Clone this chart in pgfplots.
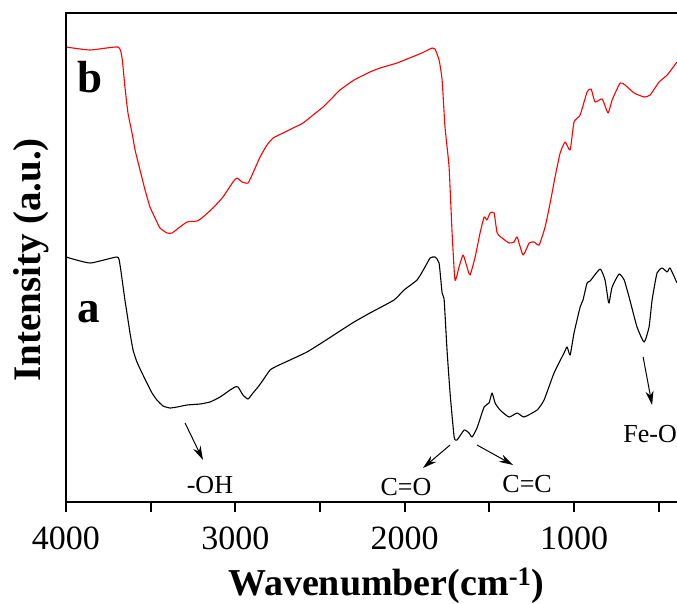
\documentclass[border=0pt]{standalone}
\usepackage{fontspec}
\setmainfont{Liberation Serif}
\usepackage{pgfplots}
\pgfplotsset{compat=1.18}
\usetikzlibrary{arrows.meta}

% FTIR spectra: curve a (black) and curve b (red), offset vertically
\pgfplotstableread{
w y
4000 245
3858 239
3699 245
3681 237
3652 202
3640 189
3622 169
3604 152
3581 140
3551 129
3522 119
3492 109
3463 102
3427 96
3386 94
3344 95
3285 97
3209 98
3150 100
3090 105
3031 112
3002 115
2984 115
2955 107
2925 103
2896 109
2866 115
2836 122
2795 132
2754 136
2677 142
2577 150
2482 160
2382 171
2299 180
2205 189
2063 202
2004 212
1927 222
1880 235
1850 244
1821 245
1797 239
1779 209
1767 202
1750 152
1732 109
1708 65
1691 62
1649 72
1620 69
1602 65
1573 74
1531 95
1502 99
1484 109
1466 99
1437 92
1384 85
1336 89
1295 85
1218 92
1177 102
1118 129
1059 149
1041 155
1023 147
1000 169
964 195
947 202
923 219
905 221
846 233
817 222
799 202
793 199
775 215
734 228
704 222
675 205
628 175
586 160
557 175
539 202
510 229
480 234
450 230
433 234
392 219
}\specA

\pgfplotstableread{
w y
4000 455
3858 452
3693 455
3669 444
3652 415
3634 389
3610 369
3592 352
3563 332
3533 312
3504 295
3474 284
3445 274
3403 269
3374 269
3327 275
3285 280
3226 281
3191 285
3132 294
3073 305
3014 320
2990 324
2960 320
2925 319
2896 329
2854 345
2813 357
2777 364
2718 369
2659 374
2600 379
2541 387
2482 395
2423 405
2382 412
2299 422
2205 430
2145 434
2045 439
1986 443
1927 447
1886 450
1838 454
1821 453
1797 442
1779 422
1762 375
1738 335
1720 269
1703 222
1679 235
1655 247
1632 235
1614 227
1584 245
1555 269
1531 285
1514 282
1496 289
1472 289
1454 269
1425 264
1384 259
1354 260
1336 265
1301 247
1265 259
1236 260
1206 257
1171 275
1141 299
1112 325
1082 349
1053 360
1023 352
1000 380
964 387
923 410
899 413
876 400
834 403
799 389
775 402
728 419
699 417
645 409
586 405
551 407
498 420
450 427
392 440
}\specB

\begin{document}
\begin{tikzpicture}
\useasboundingbox (-66pt,-101pt) rectangle (611pt,502pt);
\begin{axis}[
  at={(0pt,0pt)}, anchor=south west,
  scale only axis,
  width=611pt, height=489pt,
  x dir=reverse,
  xmin=392, xmax=4000,
  ymin=0, ymax=489,
  axis line style={draw=none},
  clip mode=individual,
  xtick={1000,2000,3000,4000},
  minor xtick={500,1500,2500,3500},
  xtick pos=bottom,
  ytick=\empty,
  tick align=outside,
  major tick length=10pt,
  minor tick length=10pt,
  every tick/.style={black, line width=2pt},
  /pgf/number format/assume math mode=true,
  /pgf/number format/1000 sep={},
  xticklabel style={font=\fontsize{34}{34}\selectfont, anchor=base, yshift=-37pt},
  xlabel={\textbf{Wavenumber(cm\textsuperscript{-1})}},
  xlabel style={font=\fontsize{38}{38}\selectfont, at={(axis description cs:0.524,0)}, anchor=base, yshift=-93pt},
  ylabel={\textbf{Intensity (a.u.)}},
  ylabel style={font=\fontsize{39}{39}\selectfont, at={(axis description cs:-0.0565,0.495)}, anchor=center, rotate=0},
]
\addplot[black, line width=1.1pt, line join=round, smooth, tension=0.3] table[x=w, y=y] {\specA};
\addplot[red, line width=1.1pt, line join=round, smooth, tension=0.3] table[x=w, y=y] {\specB};

\node[font=\fontsize{45}{45}\selectfont\bfseries, anchor=base] at (axis cs:3858,409) {b};
\node[font=\fontsize{45}{45}\selectfont\bfseries, anchor=base] at (axis cs:3864,180) {a};

\node[font=\fontsize{26}{26}\selectfont, anchor=base] at (axis cs:3150,9) {-OH};
\node[font=\fontsize{26}{26}\selectfont, anchor=base] at (axis cs:1992,7) {C=O};
\node[font=\fontsize{26}{26}\selectfont, anchor=base] at (axis cs:1277,10) {C=C};
\node[font=\fontsize{26}{26}\selectfont, anchor=base] at (axis cs:551,60) {Fe-O};

\draw[line width=1pt, -{Stealth[length=14pt, width=8pt]}] (axis cs:3297,79) -- (axis cs:3191,42);
\draw[line width=1pt, -{Stealth[length=14pt, width=8pt]}] (axis cs:1732,57) -- (axis cs:1892,34);
\draw[line width=1pt, -{Stealth[length=14pt, width=8pt]}] (axis cs:1573,57) -- (axis cs:1360,37);
\draw[line width=1pt, -{Stealth[length=14pt, width=8pt]}] (axis cs:592,145) -- (axis cs:539,97);

\coordinate (SW) at (rel axis cs:0,0);
\coordinate (NW) at (rel axis cs:0,1);
\coordinate (SE) at (rel axis cs:1,0);
\coordinate (NE) at (rel axis cs:1,1);
\end{axis}
\draw[line width=2.5pt, line cap=rect] (NE) -- (NW) -- (SW) -- (SE);
\end{tikzpicture}
\end{document}
